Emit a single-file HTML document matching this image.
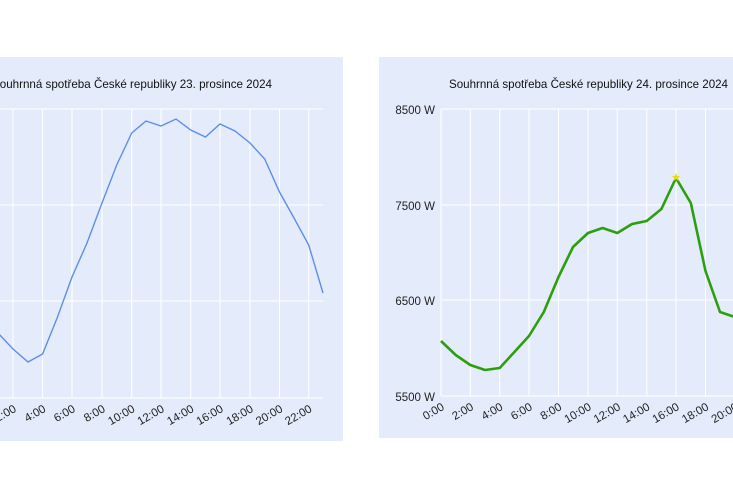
<!DOCTYPE html>
<html><head><meta charset="utf-8"><style>
html,body{margin:0;padding:0;background:#fff;}
svg{display:block;font-family:"Liberation Sans",sans-serif;}
</style></head><body>
<svg width="733" height="488" viewBox="0 0 733 488" xmlns="http://www.w3.org/2000/svg">
<rect width="733" height="488" fill="#fff"/>
<!-- left panel -->
<rect x="0" y="57" width="343" height="384" fill="#e4ecfb"/>
<g stroke="#fff" stroke-width="1">
<line x1="0" y1="109" x2="323" y2="109"/><line x1="0" y1="205" x2="323" y2="205"/>
<line x1="0" y1="301" x2="323" y2="301"/><line x1="0" y1="398" x2="323" y2="398"/>
<line x1="13" y1="109" x2="13" y2="398"/><line x1="42.6" y1="109" x2="42.6" y2="398"/>
<line x1="72" y1="109" x2="72" y2="398"/><line x1="102" y1="109" x2="102" y2="398"/>
<line x1="131.7" y1="109" x2="131.7" y2="398"/><line x1="161" y1="109" x2="161" y2="398"/>
<line x1="190.7" y1="109" x2="190.7" y2="398"/><line x1="220" y1="109" x2="220" y2="398"/>
<line x1="250" y1="109" x2="250" y2="398"/><line x1="279.5" y1="109" x2="279.5" y2="398"/>
<line x1="308.7" y1="109" x2="308.7" y2="398"/>
</g>
<text x="-8" y="88" font-size="12" textLength="280" lengthAdjust="spacingAndGlyphs" fill="#111">Souhrnná spotřeba České republiky 23. prosince 2024</text>
<polyline fill="none" stroke="#5b8fe8" stroke-width="1.4" points="-2,333 13,349 28,362 42.6,354 57.5,317 72,277 87,243 102,203 116.7,165 131.7,133 146,121 161,126 176,119 190.7,130 205.5,137 220,124 235,131 250,143 264.7,159 279.5,192 294,218 308.7,245 323,293"/>
<g font-size="11.5" fill="#222" text-anchor="end">
<text transform="translate(17,411) rotate(-30)">2:00</text>
<text transform="translate(46.6,411) rotate(-30)">4:00</text>
<text transform="translate(76,411) rotate(-30)">6:00</text>
<text transform="translate(106,411) rotate(-30)">8:00</text>
<text transform="translate(135.7,411) rotate(-30)">10:00</text>
<text transform="translate(165,411) rotate(-30)">12:00</text>
<text transform="translate(194.7,411) rotate(-30)">14:00</text>
<text transform="translate(224,411) rotate(-30)">16:00</text>
<text transform="translate(254,411) rotate(-30)">18:00</text>
<text transform="translate(283.5,411) rotate(-30)">20:00</text>
<text transform="translate(312.7,411) rotate(-30)">22:00</text>
</g>
<!-- right panel -->
<rect x="379" y="57" width="354" height="381" fill="#e4ecfb"/>
<g stroke="#fff" stroke-width="1">
<line x1="441" y1="109" x2="733" y2="109"/><line x1="441" y1="205" x2="733" y2="205"/>
<line x1="441" y1="300" x2="733" y2="300"/><line x1="441" y1="396" x2="733" y2="396"/>
<line x1="441" y1="109" x2="441" y2="396"/><line x1="470.3" y1="109" x2="470.3" y2="396"/>
<line x1="499.7" y1="109" x2="499.7" y2="396"/><line x1="529" y1="109" x2="529" y2="396"/>
<line x1="558.5" y1="109" x2="558.5" y2="396"/><line x1="588" y1="109" x2="588" y2="396"/>
<line x1="617.3" y1="109" x2="617.3" y2="396"/><line x1="646.7" y1="109" x2="646.7" y2="396"/>
<line x1="676" y1="109" x2="676" y2="396"/><line x1="705.5" y1="109" x2="705.5" y2="396"/>
</g>
<text x="449" y="88" font-size="12" textLength="279" lengthAdjust="spacingAndGlyphs" fill="#111">Souhrnná spotřeba České republiky 24. prosince 2024</text>
<g font-size="11.5" fill="#222" text-anchor="end">
<text x="435" y="114">8500 W</text><text x="435" y="210">7500 W</text>
<text x="435" y="305">6500 W</text><text x="435" y="401">5500 W</text>
</g>
<polyline fill="none" stroke="#2ca00c" stroke-width="2.6" stroke-linejoin="round" points="441,341 455.7,355 470.3,365 485,370 499.7,368 514.4,352 529,336 543.8,312 558.5,277 573,247 588,233 602.6,228 617.3,233 632,224 646.7,221 661.4,209 676,178 690.8,203 705.5,271 720,312 734.8,317"/>
<text x="676" y="181" font-size="11" fill="#f2d600" text-anchor="middle">★</text>
<g font-size="11.5" fill="#222" text-anchor="end">
<text transform="translate(445,409) rotate(-30)">0:00</text>
<text transform="translate(474.3,409) rotate(-30)">2:00</text>
<text transform="translate(503.7,409) rotate(-30)">4:00</text>
<text transform="translate(533,409) rotate(-30)">6:00</text>
<text transform="translate(562.5,409) rotate(-30)">8:00</text>
<text transform="translate(592,409) rotate(-30)">10:00</text>
<text transform="translate(621.3,409) rotate(-30)">12:00</text>
<text transform="translate(650.7,409) rotate(-30)">14:00</text>
<text transform="translate(680,409) rotate(-30)">16:00</text>
<text transform="translate(709.5,409) rotate(-30)">18:00</text>
<text transform="translate(739,409) rotate(-30)">20:00</text>
</g>
</svg>
</body></html>
